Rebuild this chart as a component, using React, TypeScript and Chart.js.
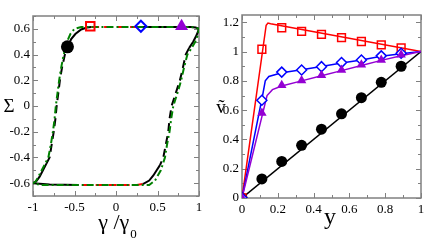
import React, { useEffect, useRef } from "react";
import { Chart, registerables } from "chart.js";
Chart.register(...registerables);

// ---------- Left panel data ----------
const loopX = [-1, -0.96, -0.92, -0.88, -0.84, -0.8, -0.775, -0.75, -0.73, -0.715, -0.695, -0.676, -0.65, -0.616, -0.58, -0.54, -0.49, -0.42, -0.35, -0.3, 0.3, 0.9, 0.96, 1,
  0.97, 0.93, 0.88, 0.84, 0.8, 0.77, 0.72, 0.67, 0.645, 0.63, 0.6, 0.57, 0.53, 0.49, 0.45, 0.4, 0.33, 0.32, 0.25, -0.45, -0.8, -1];
const loopY = [-0.6, -0.585, -0.55, -0.5, -0.45, -0.4, -0.3, -0.2, -0.1, 0, 0.1, 0.2, 0.3, 0.4, 0.46, 0.52, 0.56, 0.595, 0.61, 0.615, 0.615, 0.615, 0.61, 0.6,
  0.55, 0.5, 0.45, 0.4, 0.28, 0.2, 0.1, 0, -0.1, -0.2, -0.3, -0.4, -0.46, -0.5, -0.54, -0.58, -0.605, -0.607, -0.615, -0.615, -0.61, -0.6];
const dashDotX = [-1, -0.97, -0.935, -0.895, -0.815, -0.785, -0.76, -0.74, -0.725, -0.705, -0.685, -0.66, -0.63, -0.59, -0.55, -0.5, -0.42, 0.9, 0.96, 1,
  0.985, 0.955, 0.91, 0.86, 0.82, 0.785, 0.74, 0.69, 0.665, 0.645, 0.615, 0.59, 0.54, 0.47, 0.4, -0.9, -1];
const dashDotY = [-0.6, -0.59, -0.55, -0.5, -0.4, -0.3, -0.2, -0.1, 0, 0.1, 0.2, 0.3, 0.4, 0.5, 0.56, 0.6, 0.615, 0.615, 0.61, 0.6,
  0.55, 0.5, 0.45, 0.4, 0.3, 0.2, 0.1, 0, -0.1, -0.2, -0.3, -0.4, -0.5, -0.58, -0.615, -0.615, -0.6];
const leftMarkerX = [-0.585, -0.31, 0.3, 0.79];
const leftMarkerY = [0.46, 0.62, 0.62, 0.62];
const leftXTicks = [-1, -0.5, 0, 0.5, 1];
const leftYTicks = [-0.6, -0.4, -0.2, 0, 0.2, 0.4, 0.6];

// ---------- Right panel data ----------
const markerX = [0, 0.111, 0.222, 0.333, 0.444, 0.556, 0.667, 0.778, 0.889];
const circleY = [0, 0.13, 0.25, 0.36, 0.47, 0.575, 0.685, 0.79, 0.9];
const squareY = [0, 1.016, 1.163, 1.138, 1.117, 1.095, 1.069, 1.046, 1.026];
const diamondY = [0, 0.668, 0.86, 0.874, 0.897, 0.925, 0.943, 0.971, 0.989];
const triangleY = [0, 0.58, 0.77, 0.803, 0.838, 0.874, 0.911, 0.943, 0.978];
const blackLineX = [0, 1];
const blackLineY = [0, 1];
const redLineX = [0, 0.135, 0.145, 0.16, 1];
const redLineY = [0, 1.18, 1.195, 1.19, 1.0];
const blueLineX = [0, 0.115, 0.13, 0.15, 0.222, 0.333, 0.444, 0.556, 0.667, 0.778, 0.889, 1];
const blueLineY = [0, 0.7, 0.8, 0.83, 0.855, 0.876, 0.898, 0.922, 0.943, 0.968, 0.985, 1];
const purpleLineX = [0, 0.12, 0.14, 0.17, 0.222, 0.333, 0.444, 0.556, 0.667, 0.778, 0.889, 1];
const purpleLineY = [0, 0.6, 0.7, 0.74, 0.765, 0.8, 0.835, 0.87, 0.905, 0.94, 0.972, 1];
const rightXTicks = [0, 0.2, 0.4, 0.6, 0.8, 1];
const rightYTicks = [0, 0.2, 0.4, 0.6, 0.8, 1, 1.2];

const SERIF = "'Liberation Serif', 'DejaVu Serif', serif";
const FRAME = "#808080";
const PURPLE = "#9400d3";

const pts = (xs: number[], ys: number[]) => xs.map((x, i) => ({ x, y: ys[i] }));
const mids = (t: number[]) => t.slice(0, -1).map((v, i) => (v + t[i + 1]) / 2);

const frameTicks = {
  id: "frameTicks",
  beforeDatasetsDraw(chart: any, _a: any, opts: any) {
    const { ctx, chartArea: a, scales } = chart;
    const { x, y } = scales;
    ctx.save();
    ctx.strokeStyle = FRAME;
    ctx.lineWidth = 1.5;
    ctx.strokeRect(a.left, a.top, a.right - a.left, a.bottom - a.top);
    ctx.lineWidth = 1;
    const tick = (major: boolean, horiz: boolean, v: number) => {
      const len = major ? 5 : 3;
      ctx.beginPath();
      if (horiz) {
        const p = Math.round(x.getPixelForValue(v)) + 0.5;
        ctx.moveTo(p, a.bottom); ctx.lineTo(p, a.bottom - len);
        ctx.moveTo(p, a.top); ctx.lineTo(p, a.top + len);
      } else {
        const p = Math.round(y.getPixelForValue(v)) + 0.5;
        ctx.moveTo(a.left, p); ctx.lineTo(a.left + len, p);
        ctx.moveTo(a.right, p); ctx.lineTo(a.right - len, p);
      }
      ctx.stroke();
    };
    opts.xTicks.forEach((v: number) => tick(true, true, v));
    mids(opts.xTicks).forEach((v: number) => tick(false, true, v));
    opts.yTicks.forEach((v: number) => tick(true, false, v));
    const ym = mids(opts.yTicks);
    ym.push(opts.yTicks[opts.yTicks.length - 1] + (opts.yTicks[1] - opts.yTicks[0]) / 2);
    ym.unshift(opts.yTicks[0] - (opts.yTicks[1] - opts.yTicks[0]) / 2);
    ym.filter((v: number) => v >= y.min && v <= y.max).forEach((v: number) => tick(false, false, v));
    ctx.restore();
  },
  afterDraw(chart: any, _a: any, opts: any) {
    const { ctx } = chart;
    ctx.save();
    ctx.fillStyle = "#000";
    ctx.textBaseline = "alphabetic";
    (opts.titles || []).forEach((t: any) => {
      ctx.font = `${t.size}px ${SERIF}`;
      const w = ctx.measureText(t.text).width;
      let sw = 0;
      if (t.sub) {
        ctx.font = `${t.subSize}px ${SERIF}`;
        sw = ctx.measureText(t.sub).width;
      }
      const start = t.cx - (w + sw) / 2;
      ctx.font = `${t.size}px ${SERIF}`;
      ctx.textAlign = "left";
      ctx.fillText(t.text, start, t.by);
      if (t.sub) {
        ctx.font = `${t.subSize}px ${SERIF}`;
        ctx.fillText(t.sub, start + w + 1, t.by + t.subDy);
      }
    });
    ctx.restore();
  },
};

function axis(min: number, max: number, ticks: number[], horiz: boolean, size: number) {
  return {
    type: "linear",
    min, max,
    afterBuildTicks: (s: any) => { s.ticks = ticks.map((v) => ({ value: v })); },
    afterFit: (s: any) => { if (horiz) s.height = size; else s.width = size; },
    grid: { display: false, drawTicks: false },
    border: { display: false },
    ticks: {
      autoSkip: false, maxRotation: 0,
      padding: horiz ? 4 : 3,
      color: "#000",
      font: { family: SERIF, size: 13 },
      callback: (v: any) => String(v),
    },
  };
}

function LeftChart() {
  const ref = useRef<HTMLCanvasElement>(null);
  useEffect(() => {
    const seg = (c: any) => {
      const mx = (c.p0.parsed.x + c.p1.parsed.x) / 2;
      const my = (c.p0.parsed.y + c.p1.parsed.y) / 2;
      if (Math.abs(my) < 0.45) return "kd";
      if (my > 0 && mx > -0.3 && mx < 0.3) return "rd";
      if (my < 0 && mx > -0.45 && mx < 0.32) return "rd";
      return "s";
    };
    const chart = new Chart(ref.current!, {
      type: "scatter",
      data: {
        datasets: [
          { data: pts([leftMarkerX[0]], [leftMarkerY[0]]), pointStyle: "circle", pointRadius: 6.5, backgroundColor: "#000", borderColor: "#000", borderWidth: 0 },
          { data: pts([leftMarkerX[1]], [leftMarkerY[1]]), pointStyle: "rect", pointRadius: 6, backgroundColor: "rgba(0,0,0,0)", borderColor: "#ff0000", borderWidth: 2 },
          { data: pts([leftMarkerX[2]], [leftMarkerY[2]]), pointStyle: "rectRot", pointRadius: 5.5, backgroundColor: "rgba(0,0,0,0)", borderColor: "#0000ff", borderWidth: 2 },
          { data: pts([leftMarkerX[3]], [leftMarkerY[3]]), pointStyle: "triangle", pointRadius: 7.5, backgroundColor: PURPLE, borderColor: PURPLE, borderWidth: 0 },
          { data: pts(dashDotX, dashDotY), showLine: true, pointRadius: 0, borderColor: "#008000", borderWidth: 2, borderDash: [7, 3, 2, 3], tension: 0 },
          {
            data: pts(loopX, loopY), showLine: true, pointRadius: 0, borderColor: "#000", borderWidth: 2, tension: 0,
            segment: {
              borderColor: (c: any) => (seg(c) === "rd" ? "#ff0000" : "#000"),
              borderDash: (c: any) => (seg(c) === "s" ? [] : [8, 5]),
            },
          },
        ],
      },
      options: {
        responsive: false, animation: false,
        layout: { padding: { left: 0, right: 13, top: 16, bottom: 0 } },
        plugins: {
          legend: { display: false }, tooltip: { enabled: false },
          frameTicks: {
            xTicks: leftXTicks, yTicks: leftYTicks,
            titles: [
              { text: "Σ", cx: 9, by: 112, size: 19 },
              { text: "γ /γ", sub: "0", cx: 117, by: 229, size: 22, subSize: 13, subDy: 9 },
            ],
          },
        } as any,
        scales: {
          x: axis(-1, 1, leftXTicks, true, 52),
          y: axis(-0.7, 0.7, leftYTicks, false, 33),
        } as any,
      },
      plugins: [frameTicks],
    });
    return () => chart.destroy();
  }, []);
  return <canvas ref={ref} width={212} height={248} style={{ position: "absolute", left: 0, top: 0, width: 212, height: 248 }} />;
}

function RightChart() {
  const ref = useRef<HTMLCanvasElement>(null);
  useEffect(() => {
    const line = (xs: number[], ys: number[], color: string) => ({
      data: pts(xs, ys), showLine: true, pointRadius: 0, borderColor: color, borderWidth: 1.5, tension: 0,
    });
    const chart = new Chart(ref.current!, {
      type: "scatter",
      data: {
        datasets: [
          { data: pts(markerX, triangleY), pointStyle: "triangle", pointRadius: 5.5, backgroundColor: PURPLE, borderColor: PURPLE, borderWidth: 0 },
          { data: pts(markerX, diamondY), pointStyle: "rectRot", pointRadius: 5, backgroundColor: "#fff", borderColor: "#0000ff", borderWidth: 1.5 },
          { data: pts(markerX, squareY), pointStyle: "rect", pointRadius: 5.5, backgroundColor: "rgba(0,0,0,0)", borderColor: "#ff0000", borderWidth: 1.5 },
          { data: pts(markerX, circleY), pointStyle: "circle", pointRadius: 5.5, backgroundColor: "#000", borderColor: "#000", borderWidth: 0 },
          line(purpleLineX, purpleLineY, PURPLE),
          line(blueLineX, blueLineY, "#0000ff"),
          line(redLineX, redLineY, "#ff0000"),
          line(blackLineX, blackLineY, "#000"),
        ],
      },
      options: {
        responsive: false, animation: false,
        layout: { padding: { left: 0, right: 15, top: 15, bottom: 0 } },
        plugins: {
          legend: { display: false }, tooltip: { enabled: false },
          frameTicks: {
            xTicks: rightXTicks, yTicks: rightYTicks,
            titles: [
              { text: "ṽ", cx: 9, by: 113, size: 19 },
              { text: "y", cx: 118, by: 224, size: 24 },
            ],
          },
        } as any,
        scales: {
          x: axis(0, 1, rightXTicks, true, 50),
          y: axis(0, 1.25, rightYTicks, false, 30),
        } as any,
      },
      plugins: [frameTicks],
    });
    return () => chart.destroy();
  }, []);
  return <canvas ref={ref} width={224} height={248} style={{ position: "absolute", left: 212, top: 0, width: 224, height: 248 }} />;
}

export default function App() {
  return (
    <div style={{ position: "fixed", left: 0, top: 0, width: 436, height: 248, background: "#fff" }}>
      <LeftChart />
      <RightChart />
    </div>
  );
}
